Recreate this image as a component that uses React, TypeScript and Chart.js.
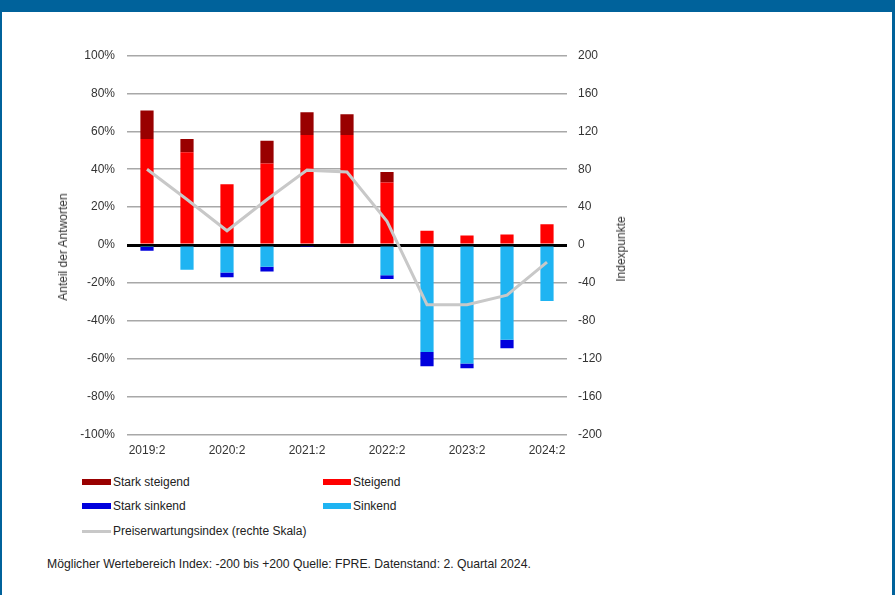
import React, { useEffect, useRef } from 'react';
import { Chart, registerables } from 'chart.js';

Chart.register(...registerables);

const categories = ['2019:2', '2019:4', '2020:2', '2020:4', '2021:2', '2021:4', '2022:2', '2022:4', '2023:2', '2023:4', '2024:2'];
const starkSteigend = [15, 7, 0, 12, 12, 11, 5.5, 0, 0, 0, 0];
const steigend = [56, 49, 32, 43, 58, 58, 33, 7.5, 5, 5.5, 11];
const sinkend = [-1, -13, -14.5, -11.5, 0, 0, -16, -56.5, -62.5, -50, -29.5];
const starkSinkend = [-2, 0, -2.5, -2.5, -1, 0, -2, -7.5, -2.5, -4.5, 0];
const indexValues = [80, 48, 15, 48, 79, 77, 25, -63, -63, -53, -18];
const leftTicks = { min: -100, max: 100, step: 20 };
const rightTicks = { min: -200, max: 200, step: 40 };

const FONT = '"Liberation Sans", Arial, Helvetica, sans-serif';
const FRAME = '#00629b';

export default function App() {
  const ref = useRef<HTMLCanvasElement>(null);

  useEffect(() => {
    document.body.style.margin = '0';
    Chart.defaults.font.family = FONT;
    Chart.defaults.font.size = 12;
    Chart.defaults.color = '#333333';
    const chart = new Chart(ref.current as HTMLCanvasElement, {
      type: 'bar',
      data: {
        labels: categories,
        datasets: [
          {
            type: 'line',
            label: 'Preiserwartungsindex (rechte Skala)',
            data: indexValues,
            yAxisID: 'y1',
            borderColor: '#c8c8c8',
            borderWidth: 3,
            pointRadius: 0,
            tension: 0,
            order: 0,
          } as any,
          { label: 'Steigend', data: steigend, backgroundColor: '#ff0000', yAxisID: 'y', order: 1 },
          { label: 'Stark steigend', data: starkSteigend, backgroundColor: '#990000', yAxisID: 'y', order: 1 },
          { label: 'Sinkend', data: sinkend, backgroundColor: '#1fb4f2', yAxisID: 'y', order: 1 },
          { label: 'Stark sinkend', data: starkSinkend, backgroundColor: '#0000dd', yAxisID: 'y', order: 1 },
        ],
      },
      options: {
        animation: false,
        responsive: false,
        maintainAspectRatio: false,
        layout: { padding: { top: 55.5, left: 0, right: 0, bottom: 0 } },
        plugins: { legend: { display: false }, tooltip: { enabled: false } },
        datasets: { bar: { barPercentage: 0.33, categoryPercentage: 1, borderWidth: 0 } },
        scales: {
          x: {
            stacked: true,
            grid: { display: false, drawTicks: false },
            border: { display: false },
            ticks: {
              autoSkip: false,
              maxRotation: 0,
              padding: 9,
              color: '#333333',
              font: { family: FONT, size: 12 },
              callback: (_v: any, i: number) => (i % 2 === 0 ? categories[i] : ''),
            },
            afterFit: (s: any) => { s.height = 35.5; },
          },
          y: {
            stacked: true,
            min: leftTicks.min,
            max: leftTicks.max,
            ticks: {
              stepSize: leftTicks.step,
              padding: 12,
              color: '#333333',
              font: { family: FONT, size: 12 },
              callback: (v: any) => v + '%',
            },
            grid: {
              drawTicks: false,
              color: (ctx: any) => (ctx.tick && ctx.tick.value === 0 ? '#000000' : '#a8a8a8'),
              lineWidth: (ctx: any) => (ctx.tick && ctx.tick.value === 0 ? 3 : 1.5),
            },
            border: { display: false },
            afterFit: (s: any) => { s.width = 127; },
          },
          y1: {
            position: 'right',
            min: rightTicks.min,
            max: rightTicks.max,
            ticks: {
              stepSize: rightTicks.step,
              padding: 11,
              color: '#333333',
              font: { family: FONT, size: 12 },
            },
            grid: { display: false, drawTicks: false },
            border: { display: false },
            afterFit: (s: any) => { s.width = 133; },
          },
        },
      } as any,
    });
    return () => chart.destroy();
  }, []);

  const text: React.CSSProperties = {
    position: 'absolute',
    fontFamily: FONT,
    fontSize: 12,
    lineHeight: '14px',
    color: '#222222',
    whiteSpace: 'nowrap',
  };

  const legend = [
    { label: 'Stark steigend', color: '#990000', x: 82, w: 29, y: 482, h: 6 },
    { label: 'Steigend', color: '#ff0000', x: 323, w: 28, y: 482, h: 6 },
    { label: 'Stark sinkend', color: '#0000dd', x: 82, w: 29, y: 506, h: 6 },
    { label: 'Sinkend', color: '#1fb4f2', x: 323, w: 28, y: 506, h: 6 },
    { label: 'Preiserwartungsindex (rechte Skala)', color: '#c8c8c8', x: 82, w: 29, y: 531, h: 3 },
  ];

  return (
    <div style={{ position: 'fixed', left: 0, top: 0, width: 896, height: 595, background: '#ffffff', overflow: 'hidden' }}>
      <div
        style={{
          position: 'absolute',
          left: 0,
          top: 0,
          width: 890,
          height: 700,
          borderTop: `12px solid ${FRAME}`,
          borderLeft: `2px solid ${FRAME}`,
          borderRight: `3px solid ${FRAME}`,
        }}
      />
      <canvas ref={ref} width={700} height={470} style={{ position: 'absolute', left: 0, top: 0, width: 700, height: 470 }} />
      <div style={{ ...text, left: 63, top: 247, color: '#333333', transform: 'translate(-50%, -50%) rotate(-90deg)' }}>
        Anteil der Antworten
      </div>
      <div style={{ ...text, left: 621, top: 249, color: '#333333', transform: 'translate(-50%, -50%) rotate(-90deg)' }}>
        Indexpunkte
      </div>
      {legend.map((l) => (
        <React.Fragment key={l.label}>
          <div style={{ position: 'absolute', left: l.x, top: l.y - l.h / 2, width: l.w, height: l.h, background: l.color }} />
          <div style={{ ...text, left: l.x + l.w + 2, top: l.y - 7 }}>{l.label}</div>
        </React.Fragment>
      ))}
      <div style={{ ...text, left: 47, top: 557, fontSize: 12.2 }}>
        Möglicher Wertebereich Index: -200 bis +200 Quelle: FPRE. Datenstand: 2. Quartal 2024.
      </div>
    </div>
  );
}
